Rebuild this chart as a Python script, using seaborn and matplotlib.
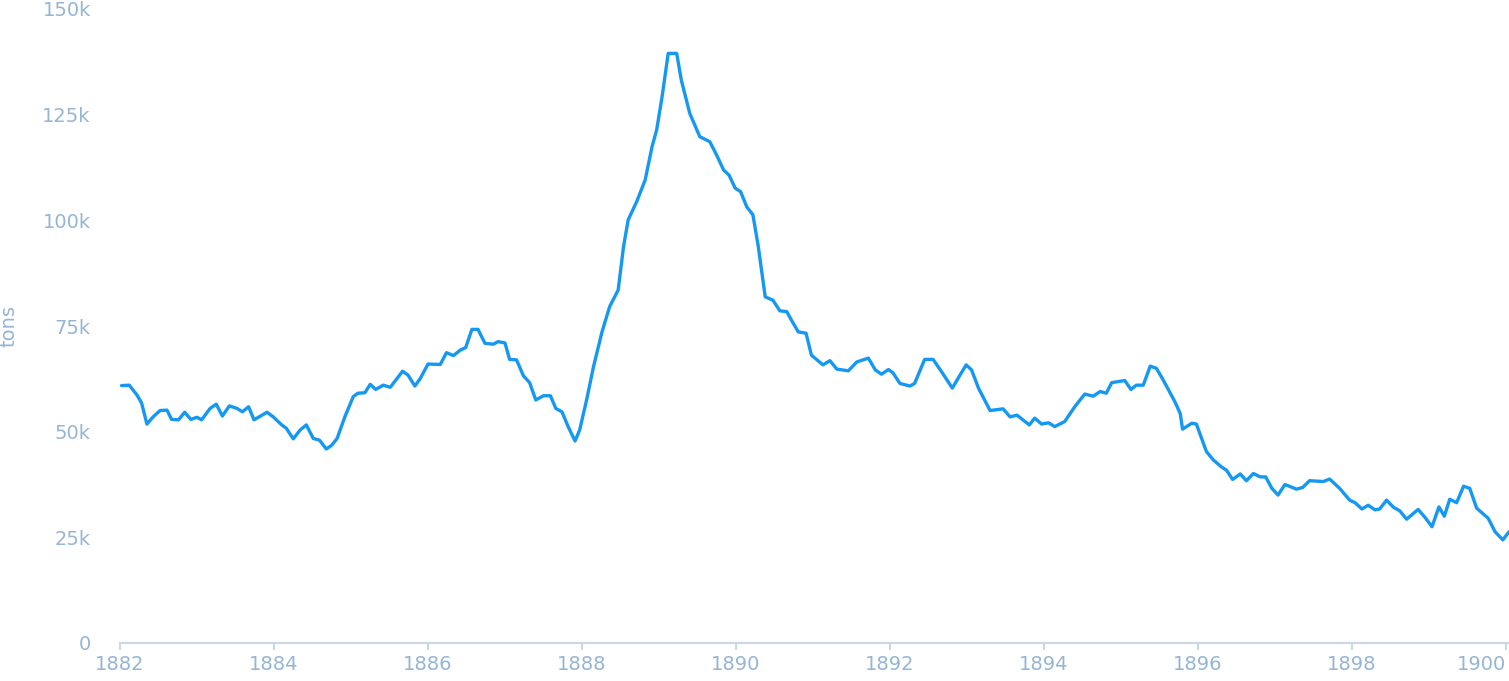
import pandas as pd
import matplotlib.pyplot as plt
import seaborn as sns
from matplotlib.ticker import FuncFormatter

# years since 1882
years_offset = [
    0.02, 0.12, 0.22, 0.28, 0.35, 0.43, 0.52, 0.61, 0.67, 0.76, 0.84, 0.92, 1.00, 1.06,
    1.17, 1.25, 1.33, 1.42, 1.52, 1.59, 1.67, 1.74, 1.91, 1.99, 2.10, 2.16, 2.25, 2.34,
    2.42, 2.51, 2.59, 2.68, 2.75, 2.82, 2.92, 3.03, 3.09, 3.18, 3.25, 3.32, 3.42, 3.51,
    3.67, 3.74, 3.83, 3.90, 4.00, 4.16, 4.24, 4.33, 4.42, 4.49, 4.57, 4.65, 4.74, 4.85,
    4.91, 5.00, 5.06, 5.15, 5.24, 5.32, 5.40, 5.50, 5.59, 5.66, 5.74, 5.82, 5.91, 5.97,
    6.06, 6.15, 6.26, 6.36, 6.47, 6.54, 6.60, 6.71, 6.82, 6.91, 6.97, 7.04, 7.12, 7.23,
    7.29, 7.40, 7.53, 7.66, 7.75, 7.84, 7.91, 7.99, 8.06, 8.14, 8.22, 8.29, 8.38, 8.48,
    8.57, 8.66, 8.72, 8.81, 8.91, 8.98, 9.13, 9.22, 9.31, 9.46, 9.57, 9.72, 9.81, 9.89,
    9.98, 10.04, 10.13, 10.26, 10.32, 10.45, 10.56, 10.67, 10.81, 10.91, 10.99, 11.06,
    11.15, 11.30, 11.47, 11.56, 11.65, 11.81, 11.88, 11.97, 12.06, 12.14, 12.27, 12.40,
    12.53, 12.64, 12.73, 12.81, 12.88, 13.05, 13.13, 13.20, 13.29, 13.38, 13.46, 13.55,
    13.70, 13.77, 13.80, 13.92, 13.98, 14.11, 14.20, 14.31, 14.37, 14.45, 14.55, 14.63,
    14.72, 14.81, 14.88, 14.96, 15.04, 15.13, 15.28, 15.36, 15.45, 15.63, 15.71, 15.84,
    15.97, 16.04, 16.13, 16.21, 16.30, 16.36, 16.45, 16.54, 16.62, 16.71, 16.80, 16.86,
    16.95, 17.04, 17.13, 17.20, 17.27, 17.36, 17.45, 17.53, 17.62, 17.77, 17.86, 17.96,
    18.04,
]

# thousands of tons
tons_k = [
    60.9, 61.0, 58.7, 56.8, 51.8, 53.5, 55.0, 55.1, 52.9, 52.8, 54.6, 52.9, 53.4, 52.8,
    55.5, 56.5, 53.7, 56.1, 55.5, 54.7, 55.9, 52.8, 54.6, 53.5, 51.6, 50.8, 48.3, 50.4,
    51.6, 48.4, 48.0, 45.9, 46.8, 48.4, 53.5, 58.3, 59.1, 59.2, 61.2, 60.0, 61.0, 60.5,
    64.3, 63.4, 60.8, 62.6, 66.0, 65.9, 68.7, 68.0, 69.3, 69.9, 74.2, 74.2, 70.9, 70.7,
    71.3, 71.0, 67.1, 67.0, 63.2, 61.6, 57.5, 58.5, 58.5, 55.5, 54.7, 51.2, 47.8, 50.4,
    57.5, 65.4, 73.6, 79.6, 83.5, 93.8, 100.1, 104.4, 109.5, 117.4, 121.4, 129.2, 139.5, 139.5,
    133.2, 125.3, 119.8, 118.6, 115.4, 111.9, 110.7, 107.6, 106.8, 103.2, 101.3, 93.8, 81.9, 81.1,
    78.6, 78.4, 76.4, 73.6, 73.3, 68.1, 65.8, 66.8, 64.8, 64.4, 66.5, 67.4, 64.6, 63.6,
    64.7, 63.9, 61.4, 60.8, 61.4, 67.1, 67.1, 64.2, 60.3, 63.4, 65.8, 64.6,
    60.3, 55.0, 55.4, 53.5, 53.9, 51.6, 53.2, 51.8, 52.1, 51.2, 52.4, 55.9,
    58.9, 58.4, 59.5, 59.1, 61.6, 62.1, 60.0, 61.0, 61.0, 65.5, 65.0, 62.2,
    57.1, 54.3, 50.6, 52.0, 51.8, 45.3, 43.3, 41.6, 40.9, 38.7, 40.0, 38.4,
    40.1, 39.3, 39.3, 36.6, 35.0, 37.5, 36.4, 36.8, 38.4, 38.2, 38.8, 36.6,
    33.8, 33.2, 31.7, 32.6, 31.5, 31.7, 33.8, 32.1, 31.3, 29.3, 30.7, 31.6,
    29.7, 27.5, 32.2, 30.0, 34.0, 33.2, 37.1, 36.6, 31.9, 29.5, 26.3, 24.4,
    26.3,
]

x_ticks = [1882, 1884, 1886, 1888, 1890, 1892, 1894, 1896, 1898, 1900]
y_ticks = [0, 25000, 50000, 75000, 100000, 125000, 150000]

df = pd.DataFrame({
    "year": [1882 + v for v in years_offset],
    "tons": [v * 1000 for v in tons_k],
})

sns.set_style("white")
plt.rcParams["font.family"] = ["DejaVu Sans"]

label_color = "#94b6d4"
axis_color = "#c9d7ea"

fig = plt.figure(figsize=(15.09, 6.81), dpi=100)
ax = fig.add_axes([120 / 1509, 38 / 681, 1389 / 1509, 634 / 681])

sns.lineplot(data=df, x="year", y="tons", color="#1598f2", linewidth=2.4, ax=ax)
ax.lines[0].set_solid_joinstyle("round")

ax.set_xlim(1882, 1900.04)
ax.set_ylim(0, 150000)
ax.set_xticks(x_ticks)
ax.set_yticks(y_ticks)
ax.yaxis.set_major_formatter(FuncFormatter(lambda v, p: "0" if v == 0 else f"{int(v / 1000)}k"))

for side in ["top", "right", "left"]:
    ax.spines[side].set_visible(False)
ax.spines["bottom"].set_color(axis_color)
ax.spines["bottom"].set_linewidth(1.5)

ax.tick_params(axis="x", bottom=True, direction="out", color=axis_color, length=5, width=1.5,
               pad=4, labelsize=14, labelcolor=label_color)
ax.tick_params(axis="y", left=False, length=0, pad=21, labelsize=14, labelcolor=label_color)

# last year label sits inside the figure edge, as in the original
ax.get_xticklabels()[-1].set_horizontalalignment("right")

ax.set_xlabel("")
ax.set_ylabel("tons", color=label_color, fontsize=14)
ax.yaxis.set_label_coords(-0.073, 0.5)

fig.savefig("out.png", dpi=100)
